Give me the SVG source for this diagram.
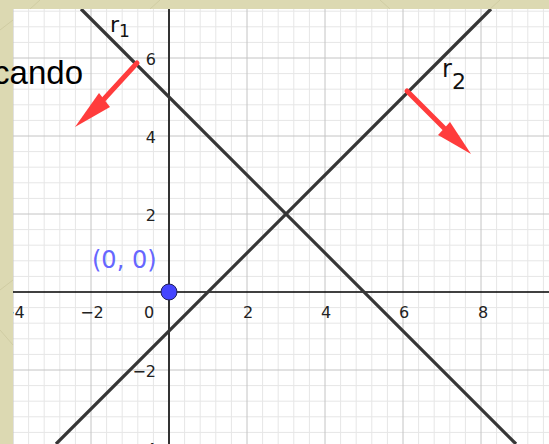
<svg xmlns="http://www.w3.org/2000/svg" width="549" height="444" viewBox="0 0 549 444">
<style>
.minor{stroke:#e6e6e6;stroke-width:1;fill:none}
.major{stroke:#c4c4c4;stroke-width:1;fill:none}
.line{stroke:#363636;stroke-width:3.2;fill:none}
.tick{font-family:"DejaVu Sans",sans-serif;font-size:16px;fill:#222}
.shaft{stroke:#ff3c3c;stroke-width:5;stroke-linecap:round;fill:none}
.head{fill:#ff3c3c}
.lbl{font-family:"DejaVu Sans",sans-serif;fill:#111}
.frame{fill:#dcd9b2}
</style>
<rect x="0" y="0" width="549" height="444" fill="#ffffff"/>
<g id="grid">
<path class="minor" d="M28.6 9V444M44.2 9V444M59.8 9V444M75.4 9V444M106.6 9V444M122.2 9V444M137.8 9V444M153.4 9V444M184.6 9V444M200.2 9V444M215.8 9V444M231.4 9V444M262.6 9V444M278.2 9V444M293.8 9V444M309.4 9V444M340.6 9V444M356.2 9V444M371.8 9V444M387.4 9V444M418.6 9V444M434.2 9V444M449.8 9V444M465.4 9V444M496.6 9V444M512.2 9V444M527.8 9V444M543.4 9V444"/>
<path class="minor" d="M13 11.2H549M13 26.8H549M13 42.4H549M13 73.6H549M13 89.2H549M13 104.8H549M13 120.4H549M13 151.6H549M13 167.2H549M13 182.8H549M13 198.4H549M13 229.6H549M13 245.2H549M13 260.8H549M13 276.4H549M13 307.6H549M13 323.2H549M13 338.8H549M13 354.4H549M13 385.6H549M13 401.2H549M13 416.8H549M13 432.4H549"/>
<path class="major" d="M13 9V444M91 9V444M247 9V444M325 9V444M403 9V444M481 9V444M13 58H549M13 136H549M13 214H549M13 370H549"/>
</g>
<g id="axes">
<line x1="13" y1="292" x2="549" y2="292" stroke="#000" stroke-width="1.6"/>
<line x1="169" y1="9" x2="169" y2="444" stroke="#333" stroke-width="2"/>
</g>
<g id="tick-labels" class="tick">
<text x="13" y="318" text-anchor="middle">−4</text>
<text x="92" y="318" text-anchor="middle">−2</text>
<text x="149" y="318" text-anchor="middle">0</text>
<text x="248" y="318" text-anchor="middle">2</text>
<text x="326" y="318" text-anchor="middle">4</text>
<text x="404" y="318" text-anchor="middle">6</text>
<text x="483" y="318" text-anchor="middle">8</text>
<text x="156" y="64.5" text-anchor="end">6</text>
<text x="156" y="142.5" text-anchor="end">4</text>
<text x="156" y="220.5" text-anchor="end">2</text>
<text x="156" y="376.5" text-anchor="end">−2</text>
<text x="156" y="454.5" text-anchor="end">−4</text>
</g>
<g id="connectors">
<line id="r1-line" class="line" x1="81" y1="9" x2="516" y2="444"/>
<line id="r2-line" class="line" x1="56" y1="444" x2="491" y2="9"/>
</g>
<g id="r1">
<text class="lbl" x="110" y="32" font-size="22">r<tspan font-size="17" dy="5">1</tspan></text>
</g>
<g id="r2">
<text class="lbl" x="442" y="77" font-size="24">r<tspan font-size="22" dy="12">2</tspan></text>
</g>
<g id="vector1">
<line class="shaft" x1="137" y1="63" x2="104" y2="99"/>
<polygon class="head" points="75,127 110,107 99,93"/>
</g>
<g id="vector2">
<line class="shaft" x1="407" y1="91" x2="444" y2="128"/>
<polygon class="head" points="471,154 438,135 450,122"/>
</g>
<g id="origin">
<circle cx="169" cy="292" r="8" fill="#4545ff" stroke="#20205a" stroke-width="1"/>
<text x="92" y="268" font-family="DejaVu Sans, sans-serif" font-size="24" fill="#6666ff">(0, 0)</text>
</g>
<g id="frame">
<rect class="frame" x="0" y="0" width="549" height="9"/>
<rect class="frame" x="0" y="0" width="13" height="444"/>
<path d="M0 30L13 20M0 290L13 280M0 330L13 345M40 0L30 9M160 0L150 9M380 0L390 9M500 0L490 9" stroke="#cfcca3" stroke-width="1" fill="none"/>
</g>
<g id="caption">
<text x="83" y="84" text-anchor="end" font-family="Liberation Sans, Arial, sans-serif" font-size="33" fill="#000">cando</text>
</g>
</svg>
